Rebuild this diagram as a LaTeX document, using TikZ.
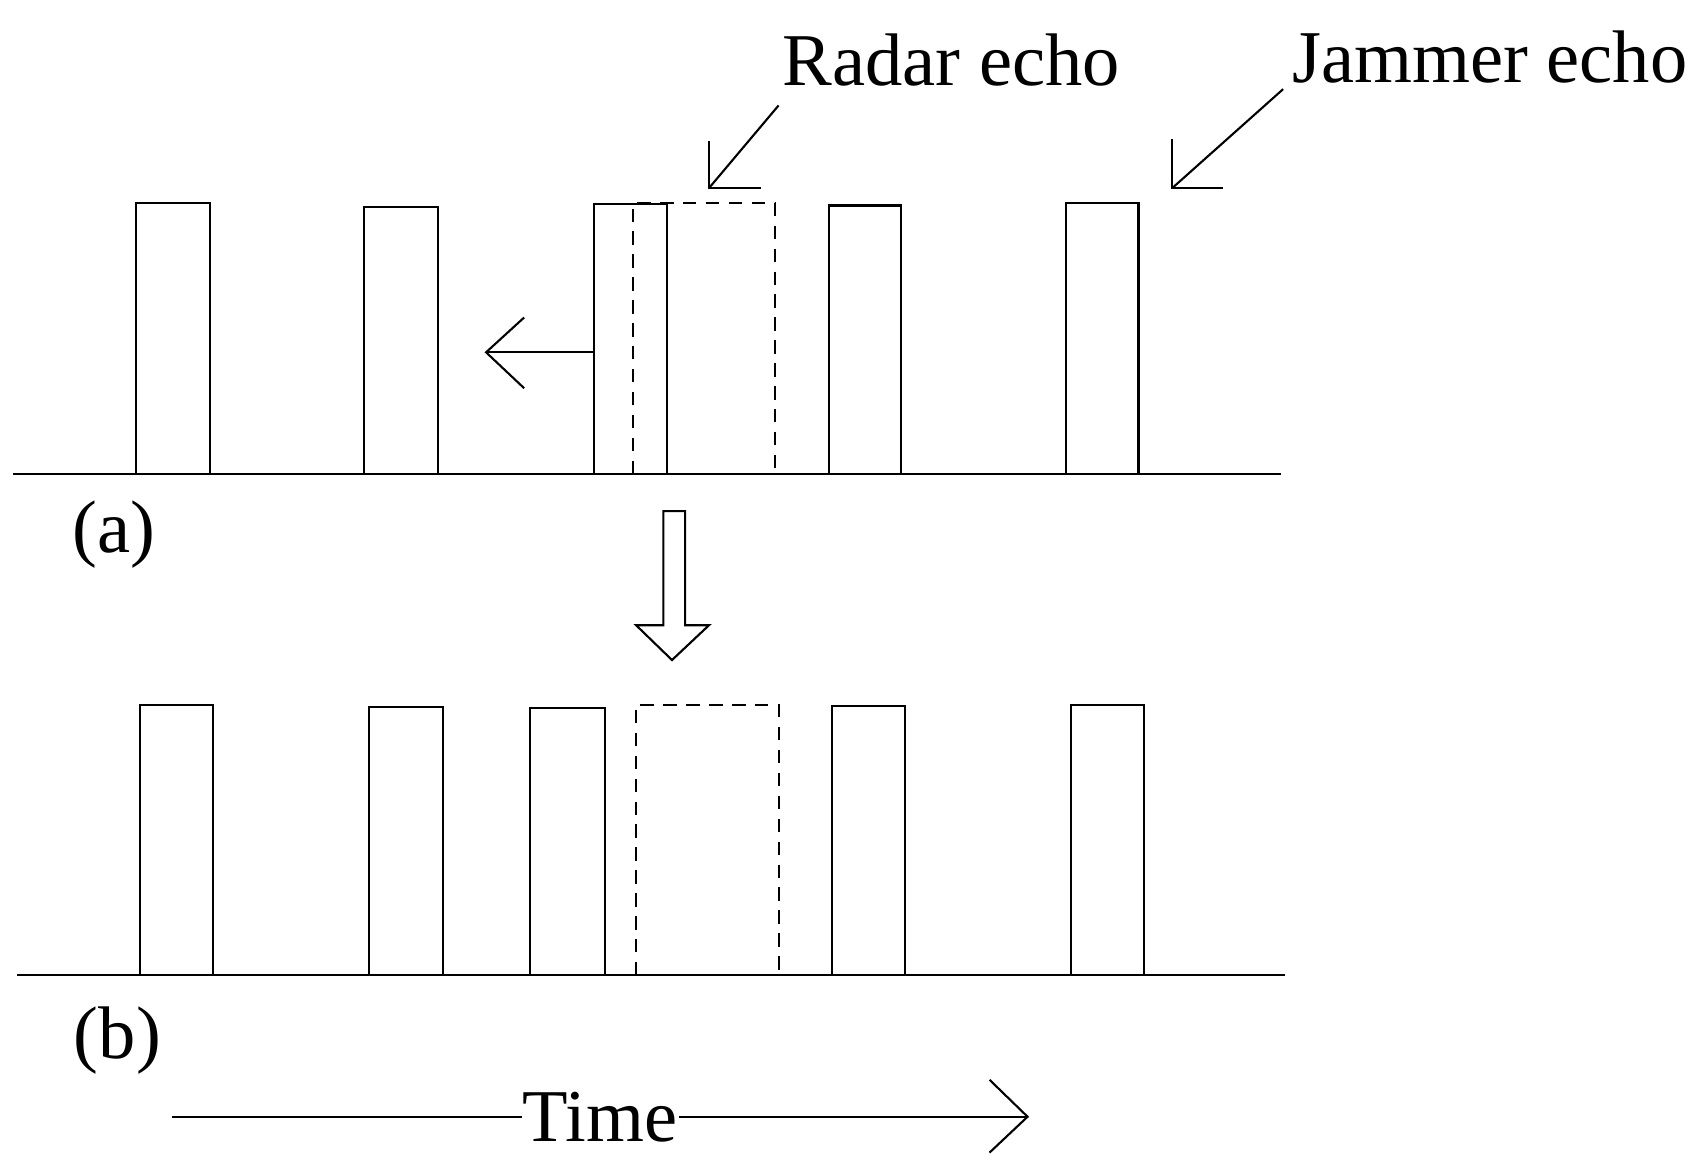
\documentclass[tikz,border=0pt]{standalone}
\usepackage{fontspec}
\setmainfont{Liberation Serif}
\begin{document}
\begin{tikzpicture}[x=0.02cm,y=-0.02cm,line width=1.1pt,
  lbl/.style={inner sep=0pt,font=\fontsize{39}{40}\selectfont},
  dsh/.style={dash pattern=on 7pt off 5pt}]
\useasboundingbox (0,0) rectangle (1568,1074);
% (a)
\coordinate (a0) at (12,436); \coordinate (a1) at (1178,436);
\draw (a0) -- (a1);
\foreach \l/\r/\t in {125/193/187,335/403/190,546/613/188,762/829/189,980/1047/187}
  \draw (\l,436) -- (\l,\t) -- (\r,\t) -- (\r,436);
\draw[dsh] (582,436) -- (582,187) -- (713,187) -- (713,436);
\coordinate (la) at (546,324); \coordinate (lb) at (447,324);
\draw (la) -- (lb);
\draw (482,292) -- (lb) -- (482,357);
\node[lbl] (ra) at (875,55) {Radar echo};
\coordinate (rs) at (716,97); \coordinate (rt) at (652,173);
\draw (rs) -- (rt); \draw (652,130) -- (rt) -- (700,173);
\node[lbl] (ja) at (1370,52) {Jammer echo};
\coordinate (js) at (1180,82); \coordinate (jt) at (1078,173);
\draw (js) -- (jt); \draw (1078,128) -- (jt) -- (1125,173);
\node[lbl] (la1) at (105,492) {(a)};
% hollow arrow
\draw (610,470) -- (630,470) -- (630,575) -- (652,575) -- (618,607) -- (585,575) -- (610,575) -- cycle;
% (b)
\coordinate (b0) at (16,897); \coordinate (b1) at (1182,897);
\draw (b0) -- (b1);
\foreach \l/\r/\t in {129/196/648,339/407/650,487/556/651,765/832/649,985/1052/648}
  \draw (\l,897) -- (\l,\t) -- (\r,\t) -- (\r,897);
\draw[dsh] (585,897) -- (585,648) -- (716,648) -- (716,897);
\node[lbl] (lb1) at (108,957) {(b)};
% time
\node[lbl] (tm) at (552,1027) {Time};
\coordinate (t0) at (158,1027); \coordinate (t1) at (945,1027);
\draw (t0) -- (tm.west); \draw (tm.east) -- (t1);
\draw (910,993) -- (t1) -- (910,1060);
\end{tikzpicture}
\end{document}
